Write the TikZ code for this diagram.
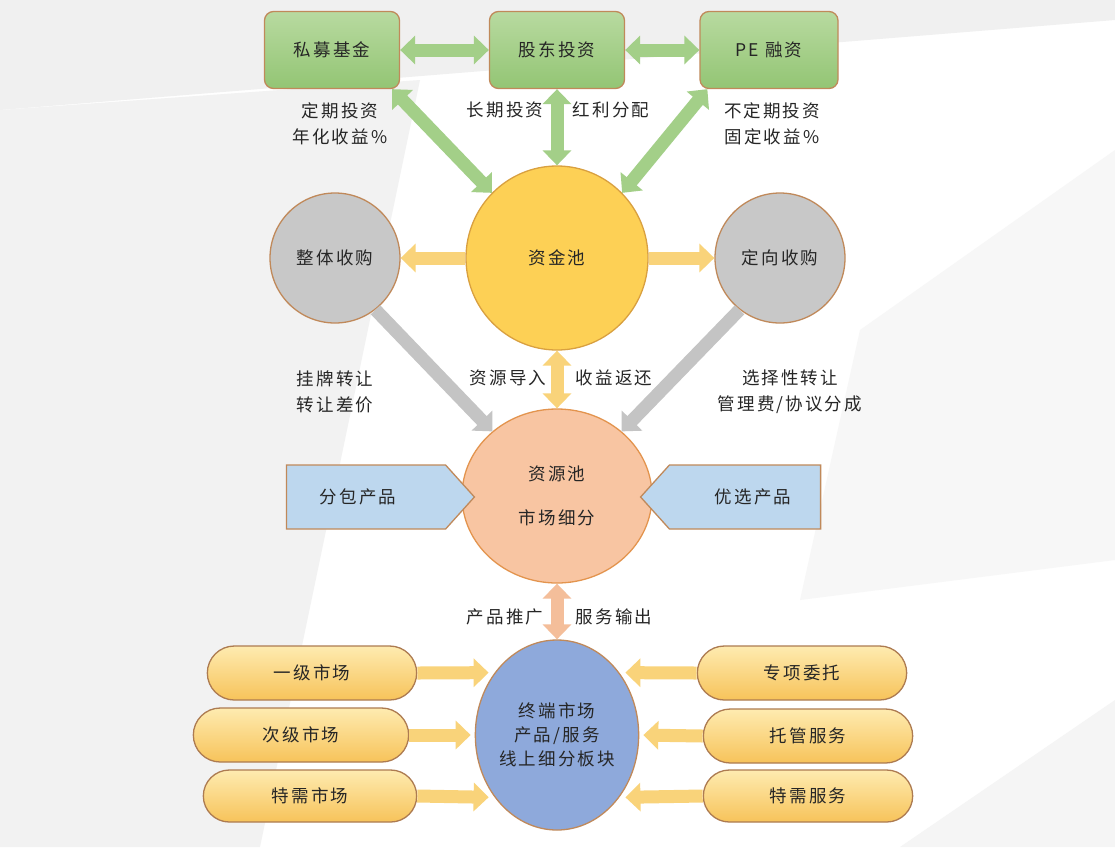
\documentclass[tikz,border=0pt]{standalone}
\usepackage{fontspec}
\newfontfamily\cjk[LetterSpace=12]{Noto Sans CJK SC}
\usetikzlibrary{shapes.geometric,shapes.misc,shapes.symbols,arrows.meta}
\definecolor{brd}{HTML}{C0895A}
\definecolor{gtop}{HTML}{B8DAA0}
\definecolor{gbot}{HTML}{93C574}
\definecolor{garr}{HTML}{A3CF88}
\definecolor{yel}{HTML}{FDD055}
\definecolor{yelb}{HTML}{D9A040}
\definecolor{yarr}{HTML}{F9D37A}
\definecolor{gry}{HTML}{C8C8C8}
\definecolor{grarr}{HTML}{C4C4C4}
\definecolor{sal}{HTML}{F8C5A2}
\definecolor{salb}{HTML}{E3944E}
\definecolor{salarr}{HTML}{F4BE9A}
\definecolor{blu}{HTML}{8EA9DB}
\definecolor{lblu}{HTML}{BDD7EE}
\definecolor{ptop}{HTML}{FEEBB0}
\definecolor{pbot}{HTML}{F7C35A}
\definecolor{txtc}{HTML}{262626}
\begin{document}
\begin{tikzpicture}[x=1pt,y=-1pt,
  txt/.style={font=\cjk\fontsize{17.5}{20}\selectfont, text=txtc, align=center},
  gbox/.style={txt, rounded corners=9pt, draw=brd, line width=1.3pt, top color=gtop, bottom color=gbot, minimum width=135pt, minimum height=77pt},
  circ/.style={txt, ellipse, line width=1.3pt, inner sep=0pt},
  sig/.style={txt, signal, draw=brd, line width=1.3pt, fill=lblu, minimum height=64pt, signal pointer angle=96},
  pill/.style={txt, rounded rectangle, draw=brd!90!black, line width=1.3pt, top color=ptop, bottom color=pbot, minimum height=54pt},
  lab/.style={txt, inner sep=1pt},
  dblarr/.style={line width=13pt, {Triangle[length=15pt,width=28pt]}-{Triangle[length=15pt,width=28pt]}},
  sglarr/.style={line width=13pt, -{Triangle[length=15pt,width=28pt]}}
]
\useasboundingbox (0,0) rectangle (1115,847);
% background
\fill[white] (0,0) rectangle (1115,847);
\fill[black!6] (0,0) -- (1115,0) -- (1115,20) -- (0,110) -- cycle;
\fill[black!5] (0,110) -- (420,80) -- (260,847) -- (0,847) -- cycle;
\fill[black!3] (860,330) -- (1115,150) -- (1115,560) -- (800,600) -- cycle;
\fill[black!4] (900,847) -- (1115,700) -- (1115,847) -- cycle;

% top boxes
\node[gbox] (smjj) at (332,50) {私募基金};
\node[gbox] (gdtz) at (557,50) {股东投资};
\node[gbox, minimum width=138pt] (pe) at (769,50) {PE 融资};

% circles
\node[circ, fill=yel, draw=yelb, minimum width=182pt, minimum height=184pt] (zjc) at (557,258) {资金池};
\node[circ, fill=gry, draw=brd, minimum width=130pt, minimum height=130pt] (ztsg) at (335,258) {整体收购};
\node[circ, fill=gry, draw=brd, minimum width=130pt, minimum height=130pt] (dxsg) at (780,258) {定向收购};
\node[circ, fill=sal, draw=salb, minimum width=190pt, minimum height=174pt] (zyc) at (557,496) {资源池\\[24pt]市场细分};
\node[circ, fill=blu, draw=brd, minimum width=162pt, minimum height=190pt] (tdsc) at (557,735) {终端市场\\[4pt]产品/服务\\[4pt]线上细分板块};

% blue pointers
\node[sig, signal to=east, minimum width=188pt] (fbcp) at (366,497) {分包产品\hspace{16pt}};
\node[sig, signal to=west, minimum width=180pt] (yxcp) at (745,497) {\hspace{16pt}优选产品};

% pills
\node[pill, minimum width=216pt] (yjsc) at (312,673) {一级市场};
\node[pill, minimum width=222pt] (cjsc) at (301,735) {次级市场};
\node[pill, minimum width=220pt, minimum height=52pt] (txsc) at (310,796) {特需市场};
\node[pill, minimum width=216pt] (zxwt) at (802,673) {专项委托};
\node[pill, minimum width=216pt] (tgfw) at (808,736) {托管服务};
\node[pill, minimum width=216pt, minimum height=52pt] (txfw) at (808,796) {特需服务};

% labels
\node[lab] (l1) at (340,124) {定期投资\\[6pt]年化收益\%};
\node[lab] (l2) at (505,110) {长期投资};
\node[lab] (l3) at (611,110) {红利分配};
\node[lab] (l4) at (772,124) {不定期投资\\[6pt]固定收益\%};
\node[lab] (l5) at (335,392) {挂牌转让\\[6pt]转让差价};
\node[lab] (l6) at (790,392) {选择性转让\\[6pt]管理费/协议分成};
\node[lab] (l7) at (508,378) {资源导入};
\node[lab] (l8) at (614,378) {收益返还};
\node[lab] (l9) at (505,617) {产品推广};
\node[lab] (l10) at (614,617) {服务输出};

% green arrows
\draw[dblarr, garr] (smjj.east) -- (gdtz.west);
\draw[dblarr, garr] (gdtz.east) -- (pe.west);
\draw[dblarr, garr] (gdtz.south) -- (zjc.north);
\draw[dblarr, garr] ([xshift=-8pt]smjj.south east) -- (zjc.135);
\draw[dblarr, garr] ([xshift=8pt]pe.south west) -- (zjc.45);

% yellow arrows from capital pool
\draw[sglarr, yarr] (zjc.west) -- (ztsg.east);
\draw[sglarr, yarr] (zjc.east) -- (dxsg.west);
\draw[dblarr, yarr] (zjc.south) -- (zyc.north);

% gray arrows
\draw[sglarr, grarr] (ztsg.-52) -- (zyc.135);
\draw[sglarr, grarr] (dxsg.232) -- (zyc.45);

% salmon arrow
\draw[dblarr, salarr] (zyc.south) -- (tdsc.north);

% pill arrows
\draw[sglarr, yarr, shorten >=6pt] (yjsc.east) -- (tdsc.135);
\draw[sglarr, yarr, shorten >=4pt] (cjsc.east) -- (tdsc.180);
\draw[sglarr, yarr, shorten >=6pt] (txsc.east) -- (tdsc.225);
\draw[sglarr, yarr, shorten >=6pt] (zxwt.west) -- (tdsc.45);
\draw[sglarr, yarr, shorten >=4pt] (tgfw.west) -- (tdsc.0);
\draw[sglarr, yarr, shorten >=6pt] (txfw.west) -- (tdsc.-45);
\end{tikzpicture}
\end{document}
